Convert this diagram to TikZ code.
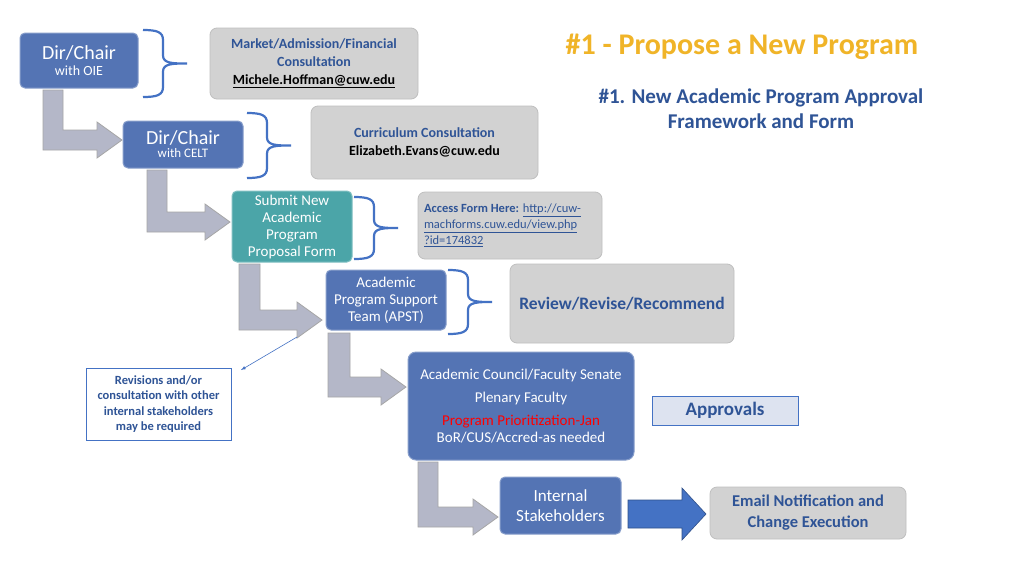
\documentclass[tikz,border=0pt]{standalone}
\usepackage{fontspec}
\setmainfont{Carlito}
\definecolor{bluebox}{RGB}{84,116,180}
\definecolor{tealbox}{RGB}{75,165,168}
\definecolor{graybox}{RGB}{210,210,210}
\definecolor{txtblue}{RGB}{47,84,150}
\definecolor{gold}{RGB}{240,180,40}
\definecolor{arrgray}{RGB}{180,183,200}
\definecolor{bigblue}{RGB}{68,114,196}
\begin{document}
\begin{tikzpicture}[x=1pt,y=1pt,
  bb/.style={draw=bluebox!70!white,line width=1pt,fill=bluebox,rounded corners=5pt,text=white,align=center,inner sep=0pt},
  gb/.style={draw=gray!50,line width=0.8pt,fill=graybox,rounded corners=7pt,align=center,inner sep=0pt,font=\bfseries\fontsize{14}{18}\selectfont,text=txtblue},
  br/.style={draw=bigblue,line width=2.2pt},
  el/.style={fill=arrgray,draw=gray!70,line width=0.8pt}]
\useasboundingbox (0,0) rectangle (1024,-576);
\fill[white] (0,0) rectangle (1024,-576);
\newcommand{\elbowarr}[5]{%
 \draw[el] (#1,-#3) -- (#2,-#3) -- (#2,-#4+10) -- (#5-25,-#4+10) -- (#5-25,-#4+18) -- (#5,-#4) -- (#5-25,-#4-18) -- (#5-25,-#4-10) -- (#1,-#4-10) -- cycle;}
\newcommand{\bracer}[3]{%
 \draw[br] (#1,-#2) .. controls (#1+14,-#2) and (#1+20,-#2-2) .. (#1+20,-#2-10)
   -- (#1+20,-#2/2-#3/2+8) .. controls (#1+20,-#2/2-#3/2) and (#1+30,-#2/2-#3/2) .. (#1+44,-#2/2-#3/2)
   (#1+44,-#2/2-#3/2) .. controls (#1+30,-#2/2-#3/2) and (#1+20,-#2/2-#3/2) .. (#1+20,-#2/2-#3/2-8)
   -- (#1+20,-#3+10) .. controls (#1+20,-#3+2) and (#1+14,-#3) .. (#1,-#3);}
\elbowarr{43}{63}{90}{140}{122}
\elbowarr{147}{167}{170}{222}{230}
\elbowarr{239}{260}{264}{320}{322}
\elbowarr{328}{350}{333}{387}{406}
\elbowarr{418}{438}{462}{517}{498}
\node[bb,minimum width=118pt,minimum height=55pt] (oie) at (79,-60.5) {{\fontsize{20}{23}\selectfont Dir/Chair}\\[4pt]{\fontsize{14}{16}\selectfont with OIE}};
\node[gb,minimum width=208pt,minimum height=71pt] (mkt) at (314,-63.5) {Market/Admission/Financial\\Consultation\\{\color{black}\underline{Michele.Hoffman@cuw.edu}}};
\node[bb,minimum width=120pt,minimum height=47pt] (celt) at (183,-144.5) {{\fontsize{20}{22}\selectfont Dir/Chair}\\[1pt]{\fontsize{13}{15}\selectfont with CELT}};
\node[gb,minimum width=227pt,minimum height=73pt] (cur) at (424.5,-142.5) {Curriculum Consultation\\{\color{black}Elizabeth.Evans@cuw.edu}};
\node[bb,fill=tealbox,draw=tealbox!70!white,minimum width=120pt,minimum height=71pt,font=\fontsize{15}{17}\selectfont] (sub) at (292,-226.5) {Submit New\\Academic\\Program\\Proposal Form};
\node[gb,minimum width=184pt,minimum height=67pt,align=left,font=\fontsize{12.5}{16}\selectfont] (acc) at (510,-225.5) {\parbox{172pt}{\bfseries Access Form Here: \mdseries\underline{http://cuw-}\\\underline{machforms.cuw.edu/view.php}\\\underline{?id=174832}}};
\node[bb,minimum width=120pt,minimum height=60pt,font=\fontsize{15}{17}\selectfont] (apst) at (386,-300) {Academic\\Program Support\\Team (APST)};
\node[gb,minimum width=224pt,minimum height=79pt,font=\bfseries\fontsize{17.5}{21}\selectfont] (rev) at (622,-303.5) {Review/Revise/Recommend};
\node[bb,rounded corners=8pt,minimum width=226pt,minimum height=108pt,font=\fontsize{15}{17}\selectfont] (coun) at (521,-406) {Academic Council/Faculty Senate\\[6pt]Plenary Faculty\\[6pt]{\color{red}Program Prioritization-Jan}\\BoR/CUS/Accred-as needed};
\node[draw=bigblue,line width=0.8pt,fill=bluebox!20,minimum width=146pt,minimum height=29pt,inner sep=0pt,text=txtblue,font=\bfseries\fontsize{19}{22}\selectfont] (appr) at (725,-410.5) {Approvals};
\node[draw=bigblue,line width=0.8pt,fill=white,minimum width=145pt,minimum height=72pt,inner sep=0pt,align=center,text=txtblue,font=\bfseries\fontsize{12.5}{15.5}\selectfont] (revs) at (158.5,-404) {Revisions and/or\\consultation with other\\internal stakeholders\\may be required};
\node[bb,minimum width=121pt,minimum height=57pt,font=\fontsize{17}{19.5}\selectfont] (int) at (560.5,-505.5) {Internal\\Stakeholders};
\node[gb,minimum width=196pt,minimum height=52pt,font=\bfseries\fontsize{16.5}{21}\selectfont] (mail) at (808,-513) {Email Notification and\\Change Execution};
\draw[fill=bigblue,draw=bigblue!70!black,line width=0.6pt] (628,-500) -- (682,-500) -- (682,-488) -- (706,-514) -- (682,-540) -- (682,-528) -- (628,-528) -- cycle;
\bracer{143}{30}{97}
\bracer{247}{113}{178}
\bracer{354}{197}{259}
\bracer{448}{270}{334}
\coordinate (ts) at (297,-337);
\coordinate (te) at (241,-370);
\draw[-latex,bigblue,line width=0.6pt] (ts) -- (te);
\node[text=gold,font=\bfseries\fontsize{30}{34}\selectfont] (title) at (742,-47) {\#1 - Propose a New Program};
\node[text=txtblue,font=\bfseries\fontsize{21}{25}\selectfont,align=center] (sub2) at (761,-109) {\#1. New Academic Program Approval\\Framework and Form};
\end{tikzpicture}
\end{document}
